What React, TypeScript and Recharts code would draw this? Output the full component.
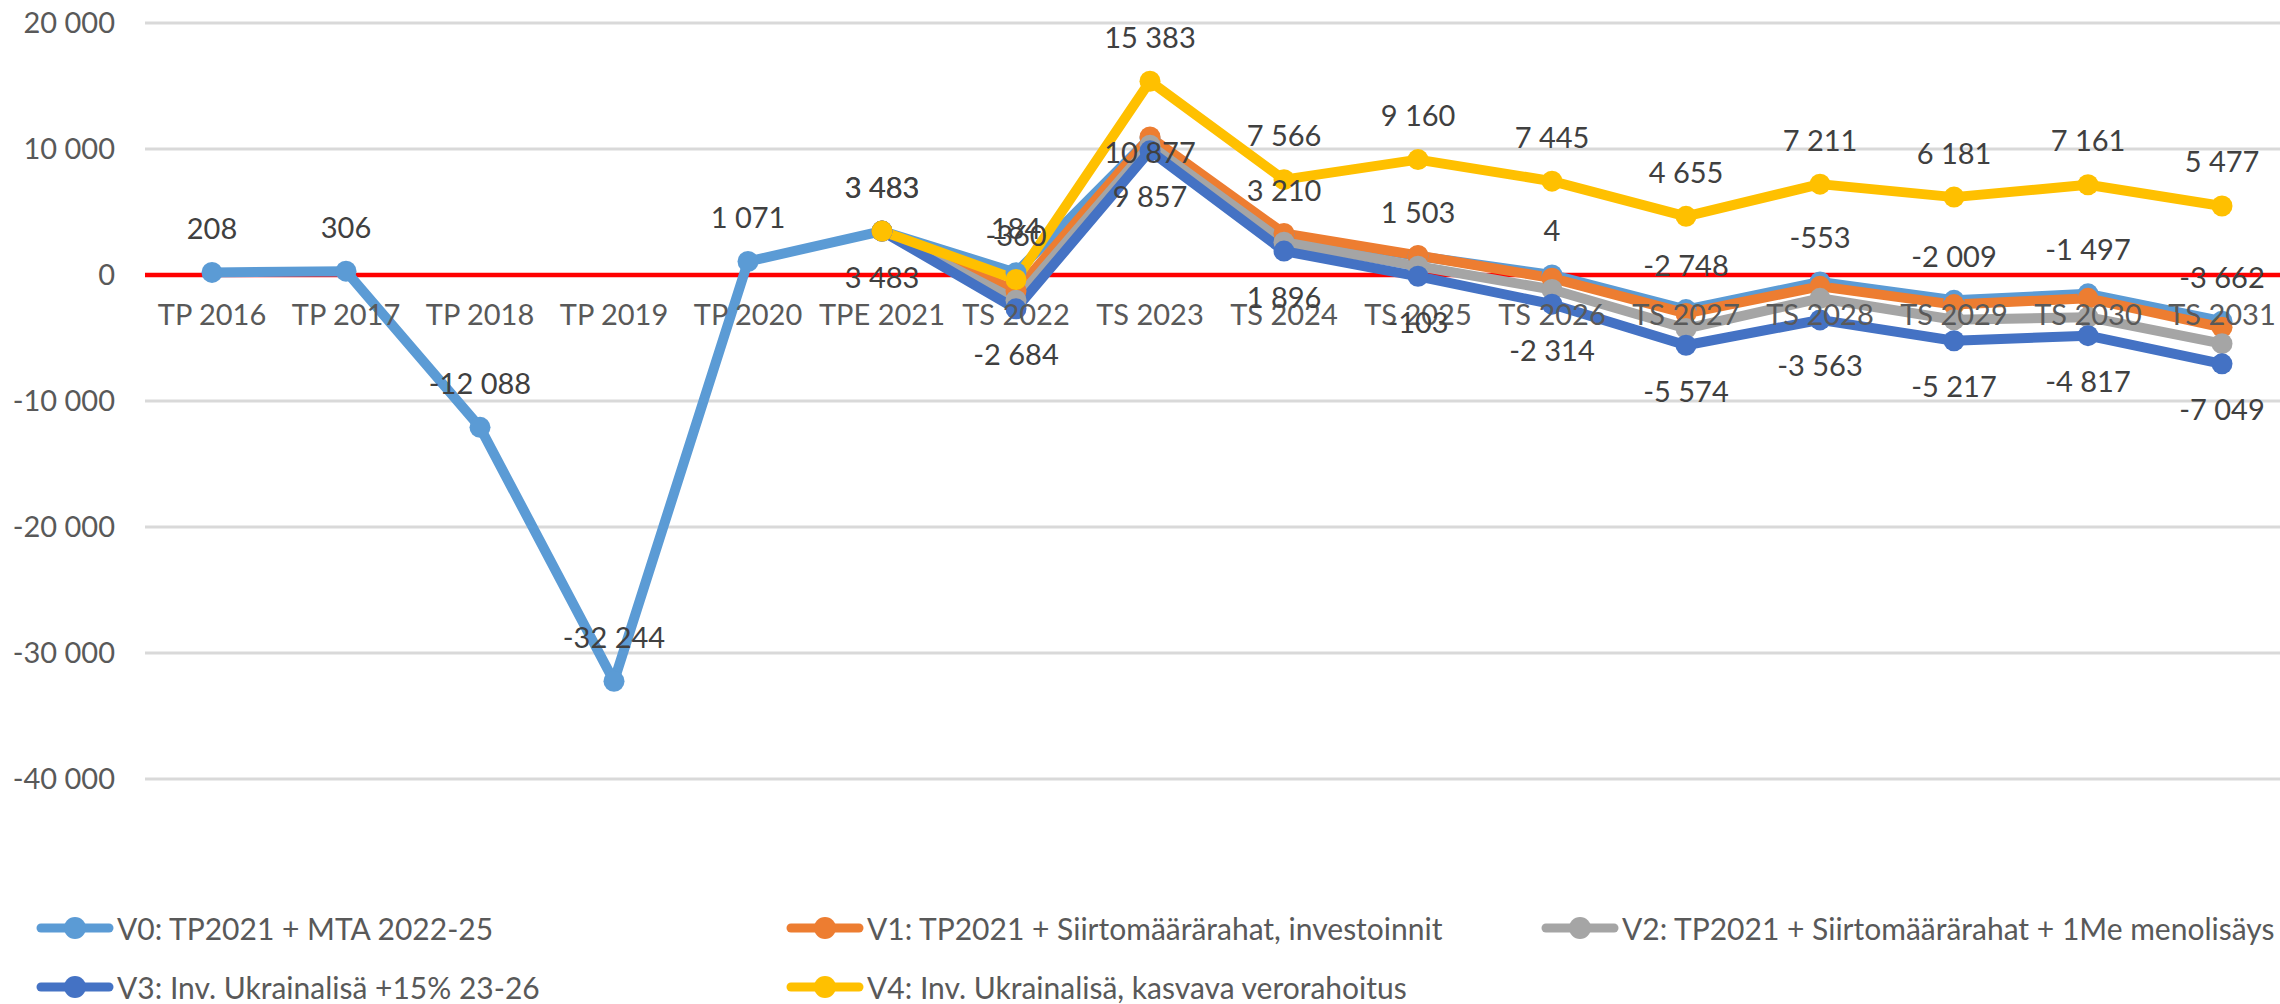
import { LineChart, Line, XAxis, YAxis, CartesianGrid, ReferenceLine, LabelList } from "recharts";

const categories = [
  "TP 2016", "TP 2017", "TP 2018", "TP 2019", "TP 2020", "TPE 2021", "TS 2022", "TS 2023",
  "TS 2024", "TS 2025", "TS 2026", "TS 2027", "TS 2028", "TS 2029", "TS 2030", "TS 2031",
];

const v0 = [208, 306, -12088, -32244, 1071, 3483, 184, 10877, 3210, 1503, 4, -2748, -553, -2009, -1497, -3662];
const v1 = [null, null, null, null, null, 3483, -1270, 10950, 3300, 1550, -250, -3050, -900, -2350, -1850, -4150];
const v2 = [null, null, null, null, null, 3483, -2000, 10300, 2600, 700, -1150, -4250, -1850, -3550, -3350, -5450];
const v3 = [null, null, null, null, null, 3483, -2684, 9857, 1896, -103, -2314, -5574, -3563, -5217, -4817, -7049];
const v4 = [null, null, null, null, null, 3483, -360, 15383, 7566, 9160, 7445, 4655, 7211, 6181, 7161, 5477];

const yTicks = [20000, 10000, 0, -10000, -20000, -30000, -40000];

const series = [
  { key: "v0", name: "V0: TP2021 + MTA 2022-25", color: "#5B9BD5" },
  { key: "v1", name: "V1: TP2021 + Siirtomäärärahat, investoinnit", color: "#ED7D31" },
  { key: "v2", name: "V2: TP2021 + Siirtomäärärahat + 1Me menolisäys", color: "#A5A5A5" },
  { key: "v3", name: "V3: Inv. Ukrainalisä +15% 23-26", color: "#4472C4" },
  { key: "v4", name: "V4: Inv. Ukrainalisä, kasvava verorahoitus", color: "#FFC000" },
];

// V0:n arvo TS 2023 kohdalla on Excelissä sijoitettu pisteen alapuolelle
const v0LabelBelow = ["TS 2023"];

const data = categories.map((cat, i) => ({
  cat,
  axis: 0,
  v0: v0[i],
  v1: v1[i],
  v2: v2[i],
  v3: v3[i],
  v4: v4[i],
}));

const FONT = "Lato, 'Open Sans', sans-serif";

const fmt = (n: number) => {
  const s = Math.abs(n).toString().replace(/\B(?=(\d{3})+(?!\d))/g, " ");
  return n < 0 ? "-" + s : s;
};

const pos = (props: any) => ({
  x: props.x ?? props.viewBox?.x,
  y: props.y ?? props.viewBox?.y,
});

const valueLabel = (dy: number, belowDy?: number) => (props: any) => {
  const { value, index } = props;
  if (value == null) return null;
  const { x, y } = pos(props);
  const off = belowDy != null && v0LabelBelow.includes(categories[index]) ? belowDy : dy;
  return (
    <text
      key={index}
      x={x}
      y={y + off}
      textAnchor="middle"
      dominantBaseline="central"
      fontSize={29}
      fontFamily={FONT}
      fill="#404040"
    >
      {fmt(value)}
    </text>
  );
};

const categoryLabel = (props: any) => {
  const { index } = props;
  const { x, y } = pos(props);
  return (
    <text
      key={index}
      x={x}
      y={y + 38}
      textAnchor="middle"
      dominantBaseline="central"
      fontSize={29}
      fontFamily={FONT}
      fill="#595959"
    >
      {categories[index]}
    </text>
  );
};

const LegendIcon = ({ color }: { color: string }) => (
  <svg width={80} height={26} style={{ display: "block", flex: "none" }}>
    <line x1={5} y1={13} x2={73} y2={13} stroke={color} strokeWidth={9} strokeLinecap="round" />
    <circle cx={39} cy={13} r={11} fill={color} />
  </svg>
);

const legendSlots = [
  { left: 36, top: 913 },
  { left: 786, top: 913 },
  { left: 1541, top: 913 },
  { left: 36, top: 972 },
  { left: 786, top: 972 },
];

export default function App() {
  return (
    <div
      style={{
        position: "fixed",
        left: 0,
        top: 0,
        width: 2280,
        height: 1004,
        overflow: "hidden",
        background: "#fff",
        fontFamily: FONT,
      }}
    >
      <LineChart width={2289} height={1004} data={data} margin={{ top: 23, right: 0, left: 0, bottom: 225 }}>
        <CartesianGrid horizontal vertical={false} stroke="#D9D9D9" strokeWidth={3} />
        <XAxis dataKey="cat" hide padding={{ left: 67, right: 67 }} />
        <YAxis
          width={145}
          domain={[-40000, 20000]}
          ticks={yTicks}
          axisLine={false}
          tickLine={false}
          tickSize={0}
          tickMargin={30}
          tickFormatter={fmt}
          tick={{ fontSize: 29, fill: "#595959", fontFamily: FONT }}
        />
        <ReferenceLine y={0} stroke="#FF0000" strokeWidth={4.5} />
        <Line dataKey="axis" stroke="none" dot={false} activeDot={false} isAnimationActive={false}>
          <LabelList dataKey="axis" content={categoryLabel} />
        </Line>
        {series.map((s) => (
          <Line
            key={s.key}
            dataKey={s.key}
            name={s.name}
            stroke={s.color}
            strokeWidth={10}
            strokeLinejoin="round"
            strokeLinecap="round"
            dot={{ r: 10.5, fill: s.color, stroke: s.color, strokeWidth: 0 }}
            activeDot={false}
            isAnimationActive={false}
          />
        ))}
        <Line dataKey="v0" stroke="none" dot={false} activeDot={false} isAnimationActive={false}>
          <LabelList dataKey="v0" content={valueLabel(-45, 14)} />
        </Line>
        <Line dataKey="v3" stroke="none" dot={false} activeDot={false} isAnimationActive={false}>
          <LabelList dataKey="v3" content={valueLabel(45)} />
        </Line>
        <Line dataKey="v4" stroke="none" dot={false} activeDot={false} isAnimationActive={false}>
          <LabelList dataKey="v4" content={valueLabel(-45)} />
        </Line>
      </LineChart>
      {series.map((s, i) => (
        <div
          key={s.key}
          style={{
            position: "absolute",
            left: legendSlots[i].left,
            top: legendSlots[i].top,
            height: 30,
            display: "flex",
            alignItems: "center",
            whiteSpace: "nowrap",
            fontSize: 30,
            color: "#595959",
          }}
        >
          <LegendIcon color={s.color} />
          <span style={{ marginLeft: 1 }}>{s.name}</span>
        </div>
      ))}
    </div>
  );
}
